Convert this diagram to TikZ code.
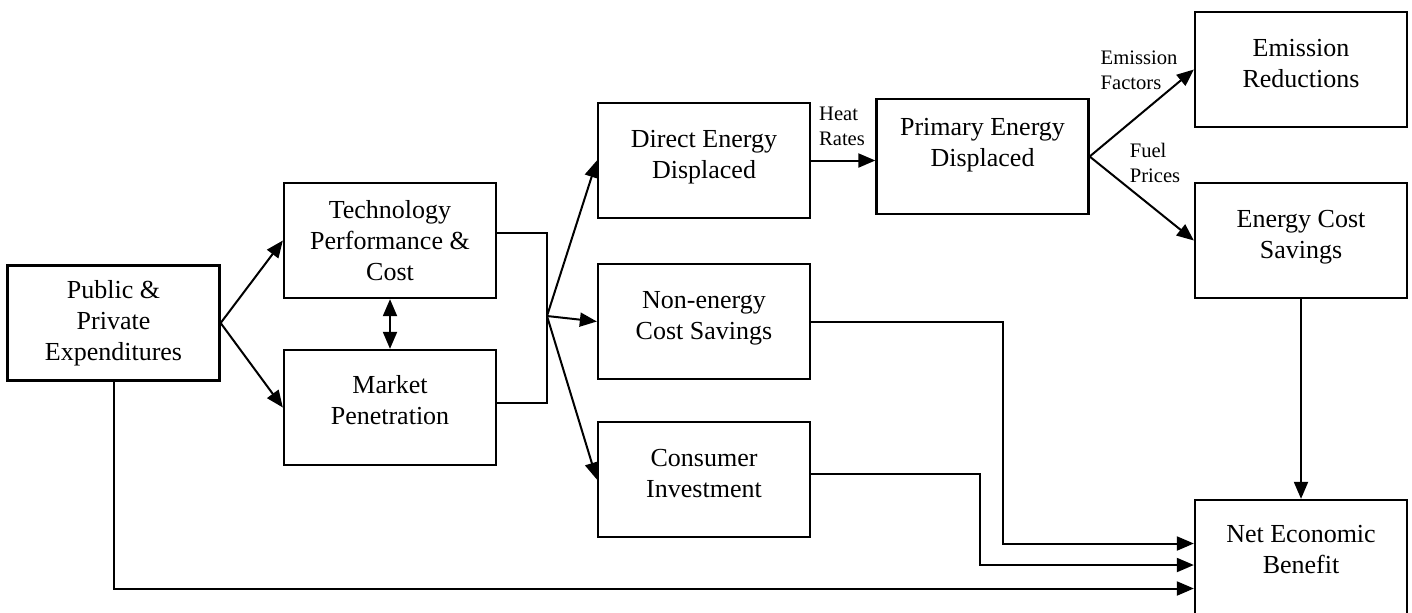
\documentclass[tikz,border=0pt]{standalone}
\usepackage{fontspec}
\setmainfont{Liberation Serif}
\usetikzlibrary{arrows.meta}

\tikzset{
  box/.style={draw, line width=1.15pt, minimum width=106pt, minimum height=57.5pt,
    inner sep=2pt, align=center, font=\fontsize{13}{15.5}\selectfont},
  arr/.style={line width=1pt, -{Triangle[length=8.5pt,width=7pt]}},
  dblarr/.style={line width=1pt, {Triangle[length=8.5pt,width=7pt]}-{Triangle[length=8.5pt,width=7pt]}},
  lbl/.style={align=left, inner sep=0pt, font=\fontsize{10.3}{12.5}\selectfont}
}

\begin{document}
\begin{tikzpicture}[x=0.5pt, y=-0.5pt]
  \useasboundingbox (0,0) rectangle (1412,612);

  % Boxes
  \node[box] (pubexp) at (113.5,323) {Public \&\\Private\\Expenditures};
  \node[box] (techperf) at (390,240.5) {Technology\\Performance \&\\Cost};
  \node[box, text depth=8pt] (mktpen) at (390,407.5) {Market\\Penetration};
  \node[box, text depth=6pt] (directen) at (704,160.5) {Direct Energy\\Displaced};
  \node[box, text depth=6pt] (nonenergy) at (704,321.5) {Non-energy\\Cost Savings};
  \node[box, text depth=6pt] (consumer) at (704,479.5) {Consumer\\Investment};
  \node[box, text depth=14pt] (primaryen) at (982.5,156.5) {Primary Energy\\Displaced};
  \node[box, text depth=6pt] (emission) at (1301,69.5) {Emission\\Reductions};
  \node[box, text depth=6pt] (encost) at (1301,240.5) {Energy Cost\\Savings};
  \node[box, text depth=8pt] (netben) at (1301,557.5) {Net Economic\\Benefit};

  % Connector labels
  \node[lbl] (heatrates) at (842,126) {Heat\\Rates};
  \node[lbl] (emfactors) at (1139,70) {Emission\\Factors};
  \node[lbl] (fuelprices) at (1155,163) {Fuel\\Prices};

  % Helper points
  \coordinate (fan) at (547,316);
  \coordinate (in1) at ([yshift=7pt]netben.west);
  \coordinate (in2) at ([yshift=-3.75pt]netben.west);
  \coordinate (in3) at ([yshift=-15.5pt]netben.west);

  % Expenditures into technology and market
  \draw[arr] (pubexp.east) -- (techperf.west);
  \draw[arr] (pubexp.east) -- (mktpen.west);
  \draw[dblarr] (techperf.south) -- (mktpen.north);

  % Bracket and fan out
  \draw[line width=1pt] ([yshift=3.75pt]techperf.east) -| (fan) |- ([yshift=2.25pt]mktpen.east);
  \draw[arr] (fan) -- (directen.west);
  \draw[arr] (fan) -- (nonenergy.west);
  \draw[arr] (fan) -- (consumer.west);

  % Energy chain
  \draw[arr] (directen.east) -- (directen.east -| primaryen.west);
  \draw[arr] (primaryen.east) -- (emission.west);
  \draw[arr] (primaryen.east) -- (encost.west);
  \draw[arr] (encost.south) -- (netben.north);

  % Into net benefit
  \draw[arr] (nonenergy.east) -- ++(192,0) |- (in1);
  \draw[arr] ([yshift=3pt]consumer.east) -- ++(169,0) |- (in2);
  \draw[arr] (pubexp.south) |- (in3);

\end{tikzpicture}
\end{document}
